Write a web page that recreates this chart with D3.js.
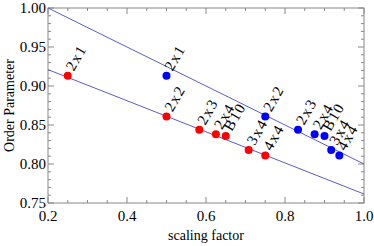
<!DOCTYPE html>
<html>
<head>
<meta charset="utf-8">
<script src="https://cdn.jsdelivr.net/npm/d3@7"></script>
<style>
  body { margin: 0; background: #fff; }
</style>
</head>
<body>
<svg id="chart" width="374" height="246" font-family="'Liberation Serif', 'DejaVu Serif', serif"></svg>
<script>
// data
var labels = ['2x1', '2x2', '2x3', '2x4', 'B10', '3x4', '4x4'];
var redX = [0.25, 0.5, 0.583, 0.625, 0.65, 0.708, 0.75];
var blueX = [0.5, 0.75, 0.833, 0.875, 0.9, 0.917, 0.9375];
var orderY = [0.913, 0.861, 0.844, 0.838, 0.836, 0.818, 0.811];
// fitted lines: [x, y] end points
var upperLine = [[0.2, 1.0], [1.0, 0.80]];
var lowerLine = [[0.2, 0.921], [1.0, 0.7615]];
var xTicks = [0.2, 0.4, 0.6, 0.8, 1.0];
var yTicks = [0.75, 0.80, 0.85, 0.90, 0.95, 1.00];

var svg = d3.select('#chart');
var m = {l: 48, r: 10, t: 8, b: 43};
var W = 374, H = 246;

var x = d3.scaleLinear().domain([0.2, 1.0]).range([m.l, W - m.r]);
var y = d3.scaleLinear().domain([0.75, 1.0]).range([H - m.b, m.t]);

var frame = '#888';

// plot frame
svg.append('rect')
  .attr('x', x(0.2)).attr('y', y(1.0))
  .attr('width', x(1.0) - x(0.2)).attr('height', y(0.75) - y(1.0))
  .attr('fill', 'none').attr('stroke', frame).attr('stroke-width', 1);

// inward ticks, all four sides
var xMinor = d3.range(0.2, 1.0001, 0.05);
var yMinor = d3.range(0.75, 1.0001, 0.01);
function isMajor(v, list) { return list.some(function(t) { return Math.abs(t - v) < 1e-6; }); }

var tg = svg.append('g').attr('stroke', frame).attr('stroke-width', 1);
xMinor.forEach(function(v) {
  var len = isMajor(v, xTicks) ? 6 : 3;
  tg.append('line').attr('x1', x(v)).attr('x2', x(v)).attr('y1', y(0.75)).attr('y2', y(0.75) - len);
  tg.append('line').attr('x1', x(v)).attr('x2', x(v)).attr('y1', y(1.0)).attr('y2', y(1.0) + len);
});
yMinor.forEach(function(v) {
  var len = isMajor(v, yTicks) ? 6 : 3;
  tg.append('line').attr('y1', y(v)).attr('y2', y(v)).attr('x1', x(0.2)).attr('x2', x(0.2) + len);
  tg.append('line').attr('y1', y(v)).attr('y2', y(v)).attr('x1', x(1.0)).attr('x2', x(1.0) - len);
});

// tick labels
svg.append('g').selectAll('text').data(xTicks).enter().append('text')
  .attr('x', function(d) { return x(d); })
  .attr('y', y(0.75) + 18)
  .attr('text-anchor', 'middle')
  .attr('font-size', 15)
  .text(function(d) { return d3.format('.1f')(d); });

svg.append('g').selectAll('text').data(yTicks).enter().append('text')
  .attr('x', x(0.2) - 2)
  .attr('y', function(d) { return y(d) + 5; })
  .attr('text-anchor', 'end')
  .attr('font-size', 15)
  .text(function(d) { return d3.format('.2f')(d); });

// axis titles
svg.append('text')
  .attr('x', (x(0.2) + x(1.0)) / 2).attr('y', 240)
  .attr('text-anchor', 'middle').attr('font-size', 14)
  .text('scaling factor');
svg.append('text')
  .attr('transform', 'translate(14,' + ((y(0.75) + y(1.0)) / 2) + ') rotate(-90)')
  .attr('text-anchor', 'middle').attr('font-size', 14)
  .text('Order Parameter');

// lines
var line = d3.line().x(function(d) { return x(d[0]); }).y(function(d) { return y(d[1]); });
[upperLine, lowerLine].forEach(function(l) {
  svg.append('path').attr('d', line(l))
    .attr('fill', 'none').attr('stroke', '#5c5cc4').attr('stroke-width', 1);
});

// points and labels
function series(xs, color) {
  var pts = xs.map(function(v, i) { return {x: v, y: orderY[i], lab: labels[i]}; });
  var g = svg.append('g');
  g.selectAll('circle').data(pts).enter().append('circle')
    .attr('cx', function(d) { return x(d.x); })
    .attr('cy', function(d) { return y(d.y); })
    .attr('r', 4)
    .attr('fill', color);
  g.selectAll('text').data(pts).enter().append('text')
    .attr('transform', function(d) {
      return 'translate(' + (x(d.x) + 6) + ',' + (y(d.y) - 4) + ') rotate(-60)';
    })
    .attr('font-size', 15)
    .attr('letter-spacing', 1.5)
    .text(function(d) { return d.lab; });
}
series(redX, '#ff0000');
series(blueX, '#0000ff');
</script>
</body>
</html>
